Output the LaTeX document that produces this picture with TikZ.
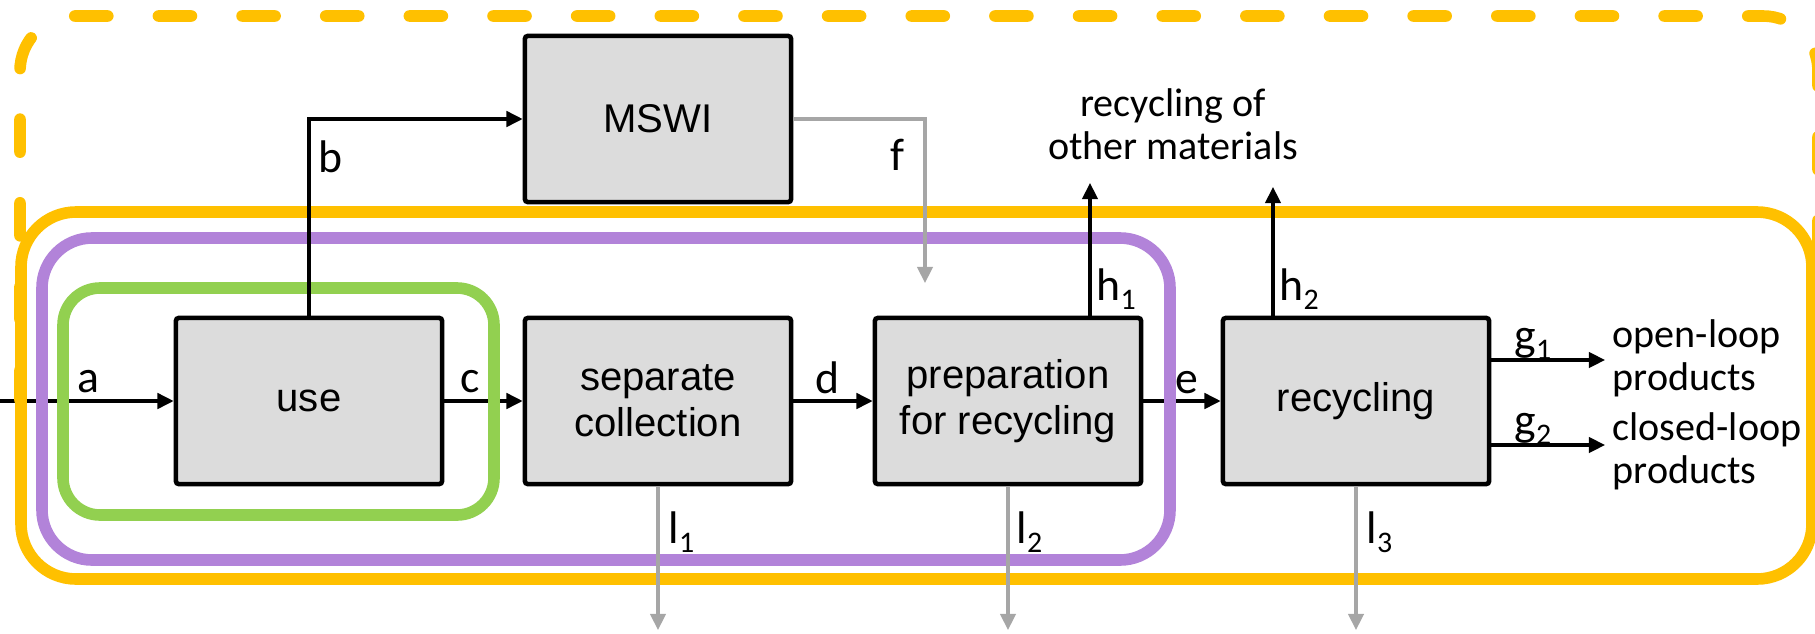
\documentclass[tikz,border=0pt]{standalone}
\usepackage{fontspec}
\setmainfont{Carlito}
\newfontfamily\boxfont{Liberation Sans}
\usetikzlibrary{arrows.meta}

\definecolor{frameorange}{RGB}{255,192,0}
\definecolor{framepurple}{RGB}{178,131,217}
\definecolor{framegreen}{RGB}{146,208,80}
\definecolor{procfill}{RGB}{220,220,220}
\definecolor{lossgray}{RGB}{166,166,166}

% lowered index digit for the flow labels
\newcommand\lsub[1]{\raisebox{-2.8pt}{\fontsize{8.5}{9}\selectfont #1}}

\begin{document}
\begin{tikzpicture}[x=0.01cm, y=-0.01cm,
  proc/.style={draw=black, line width=1.3pt, fill=procfill, rounded corners=0.8pt,
    minimum width=2.66cm, minimum height=1.66cm, inner sep=0pt, align=center,
    font=\boxfont\fontsize{11.4}{13.1}\selectfont},
  flow/.style={draw=black, line width=0.9pt, -{Triangle[length=4.6pt, width=4.4pt]}},
  loss/.style={flow, draw=lossgray},
  frame/.style={line width=3.3pt, rounded corners=0.5cm},
  lbl/.style={inner sep=0pt, font=\fontsize{13}{15}\selectfont},
  note/.style={inner sep=0pt, font=\fontsize{11.4}{12.2}\selectfont}
]
\useasboundingbox (0,0) rectangle (1815,633);
\clip (0,0) rectangle (1815,633);

% process boxes
\node[proc] (use)  at (309,401)  {use};
\node[proc] (sep)  at (658,401)  {separate\\collection};
\node[proc] (prep) at (1008,401) {preparation\\for recycling};
\node[proc] (rec)  at (1356,401) {recycling};
\node[proc] (mswi) at (658,119)  {MSWI};

% free ends of the flows
\coordinate (src)  at (0,401);
\coordinate (fend) at (925,283);
\coordinate (h1end) at (1090,183);
\coordinate (h2end) at (1273,187);
\coordinate (g1end) at (1605,360);
\coordinate (g2end) at (1605,445);
\coordinate (l1end) at (658,630);
\coordinate (l2end) at (1008,630);
\coordinate (l3end) at (1356,630);

% horizontal flows that pass beneath the system boundaries
\draw[flow] (src) -- (use);
\draw[flow] (use) -- (sep);
\draw[flow] (prep) -- (rec);

% system boundaries
\draw[frame, frameorange, rounded corners=0.55cm] (21,212) rectangle (1812,579);
\draw[frame, framepurple] (42,238) rectangle (1170,560);
\draw[frame, framegreen, rounded corners=0.37cm] (63,288) rectangle (494,515);
\draw[frameorange, line width=3.3pt, line cap=round, rounded corners=0.55cm,
      dash pattern=on 0.33cm off 0.506cm, dash phase=0.031cm]
  (20,400) -- (20,16) -- (1818,16) -- (1818,400);

% remaining flows
\draw[flow] (use.north) |- (mswi.west);
\draw[flow] (sep) -- (prep);
\draw[loss] (mswi.east) -| (fend);
\draw[flow] (h1end |- prep.north) -- (h1end);
\draw[flow] (h2end |- rec.north) -- (h2end);
\draw[flow] (g1end -| rec.east) -- (g1end);
\draw[flow] (g2end -| rec.east) -- (g2end);
\draw[loss] (sep.south) -- (l1end);
\draw[loss] (prep.south) -- (l2end);
\draw[loss] (rec.south) -- (l3end);

% flow labels
\node[lbl, anchor=base] (la) at (88,392)  {a};
\node[lbl, anchor=base] (lb) at (331,172) {b};
\node[lbl, anchor=base] (lc) at (470,392) {c};
\node[lbl, anchor=base] (ld) at (828,393) {d};
\node[lbl, anchor=base] (le) at (1187,393) {e};
\node[lbl, anchor=base] (lf) at (897,170) {f};
\node[lbl, anchor=base west] (lh1) at (1096,300) {h\lsub{1}};
\node[lbl, anchor=base west] (lh2) at (1279,300) {h\lsub{2}};
\node[lbl, anchor=base west] (lg1) at (1514,350) {g\lsub{1}};
\node[lbl, anchor=base west] (lg2) at (1514,435) {g\lsub{2}};
\node[lbl, anchor=base west] (ll1) at (668,543)  {l\lsub{1}};
\node[lbl, anchor=base west] (ll2) at (1016,543) {l\lsub{2}};
\node[lbl, anchor=base west] (ll3) at (1366,543) {l\lsub{3}};

% destinations
\node[note, align=center] (other) at (1173,124) {recycling of\\other materials};
\node[note, align=left, anchor=west] (openloop) at (1612,358) {open-loop\\products};
\node[note, align=left, anchor=west] (closedloop) at (1612,451) {closed-loop\\products};
\end{tikzpicture}
\end{document}
